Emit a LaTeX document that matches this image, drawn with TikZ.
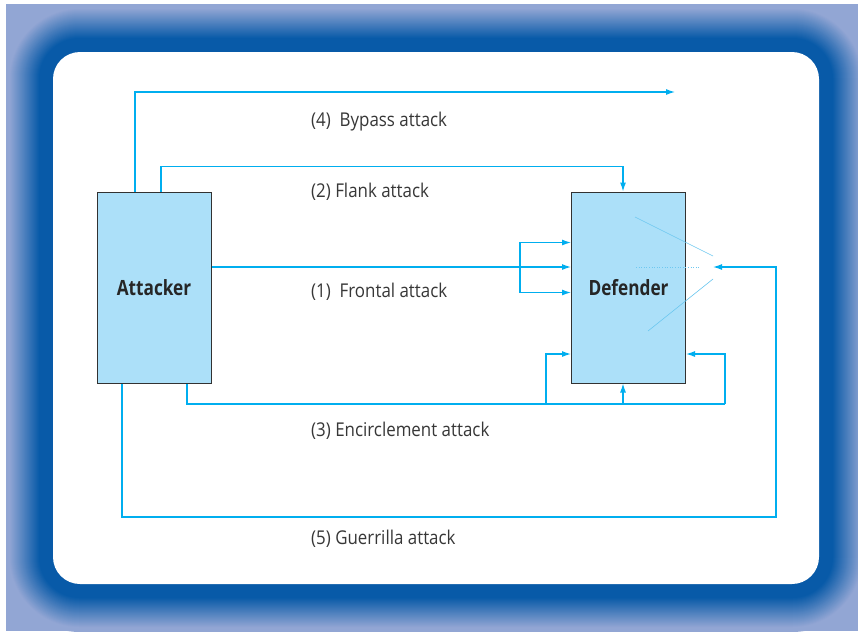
\documentclass[tikz,border=0pt]{standalone}
\usepackage{fontspec}
\setmainfont{Open Sans}[FakeStretch=0.89,BoldFeatures={FakeStretch=0.82}]
\usetikzlibrary{arrows.meta}
\definecolor{dkblue}{RGB}{8,90,168}
\definecolor{ltblue}{RGB}{146,166,212}
\definecolor{lineblue}{RGB}{0,174,239}
\definecolor{faint}{RGB}{110,200,240}
\definecolor{boxfill}{RGB}{172,224,249}
\definecolor{boxline}{RGB}{50,50,50}
\definecolor{txt}{RGB}{55,55,55}
\begin{document}
\begin{tikzpicture}[x=1pt,y=-1pt,
  conn/.style={draw=lineblue,line width=1.2pt},
  arr/.style={conn,-{Latex[length=9pt,width=6pt]}},
  faintline/.style={draw=faint,line width=0.6pt},
  box/.style={draw=boxline,fill=boxfill,line width=1pt,minimum width=114pt,minimum height=191pt,inner sep=0pt,text=black!85,font=\bfseries\fontsize{21}{24}\selectfont},
  lbl/.style={anchor=west,inner sep=0pt,text=txt,font=\fontsize{19}{22}\selectfont}]
\useasboundingbox (0,0) rectangle (858,632);
% frame
\begin{scope}
\clip (6,4) rectangle (858,631);
\fill[ltblue] (6,4) rectangle (858,631);
\foreach \d in {48,47,...,0}{
  \pgfmathsetmacro\p{max(0,min(100,100*(44-\d)/30))}
  \pgfmathsetmacro\r{27+\d}
  \fill[dkblue!\p!ltblue, rounded corners=\r pt] (53-\d,52-\d) rectangle (819+\d,584+\d);
}
\end{scope}
\fill[white, rounded corners=27pt] (53,52) rectangle (819,584);
% boxes
\node[box] (att) at (154,287.5) {Attacker};
\node[box] (def) at (628.5,287.5) {Defender};
% named points
\coordinate (bypassend) at (675,92);
\coordinate (fb) at (520,267);
\coordinate (encR) at (725,404);
\coordinate (encL) at (546,404);
\coordinate (du) at ([xshift=-5.5pt]def.south);
\coordinate (gR) at (776,517);
\coordinate (gT) at (713,267);
% (4) bypass
\draw[arr] ([xshift=-19pt]att.north) |- (bypassend);
% (2) flank
\draw[arr] ([xshift=7pt]att.north) -- ++(0,-25) -| ([xshift=-5.5pt]def.north);
% (1) frontal
\draw[arr] ([yshift=20.5pt]att.east) -- ([yshift=20.5pt]def.west);
\draw[arr] (fb) |- ([yshift=45pt]def.west);
\draw[arr] (fb) |- ([yshift=-5pt]def.west);
% (3) encirclement
\draw[conn] ([xshift=33pt]att.south) |- (encR);
\draw[arr] (encR) |- ([yshift=-66.5pt]def.east);
\draw[arr] (encL) |- ([yshift=-66.5pt]def.west);
\draw[arr] (du |- encR) -- (du);
% (5) guerrilla
\draw[arr] ([xshift=-32pt]att.south) |- (gR) |- (gT);
% faint lines
\draw[faintline] (635,217) -- (713,256);
\draw[faintline, dotted] (636,267) -- (700,267);
\draw[faintline] (713,279) -- (648,331);
% labels
\node[lbl] (l4) at (311,122) {(4)\ \ Bypass attack};
\node[lbl] (l2) at (311,192) {(2) Flank attack};
\node[lbl] (l1) at (311,292) {(1)\ \ Frontal attack};
\node[lbl] (l3) at (311,431) {(3) Encirclement attack};
\node[lbl] (l5) at (311,539) {(5) Guerrilla attack};
\end{tikzpicture}
\end{document}
